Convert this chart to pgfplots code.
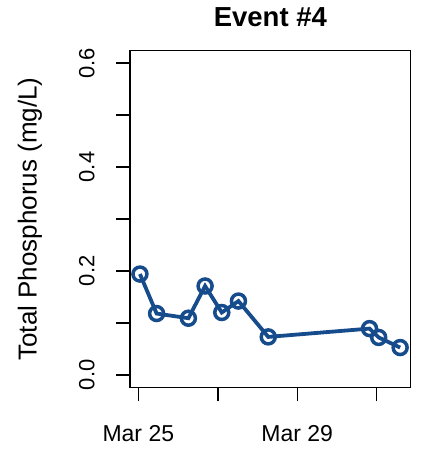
\documentclass[border=0pt]{standalone}
\usepackage{fontspec}
\setmainfont{Liberation Sans}
\usepackage{pgfplots}
\pgfplotsset{compat=1.18}
\definecolor{tpblue}{RGB}{22,76,140}
\begin{document}
\begin{tikzpicture}[x=1bp,y=1bp]
\useasboundingbox (0,0) rectangle (424,450);
\begin{axis}[
  at={(130bp,62.7bp)}, anchor=south west,
  scale only axis, width=280.7bp, height=336.6bp,
  xmin=24.79, xmax=31.856, ymin=-0.024, ymax=0.624,
  axis line style={line width=1.5bp},
  tick style={line width=1.5bp, black},
  tick align=outside, major tick length=14bp,
  xtick pos=bottom, ytick pos=left,
  xtick={25,27,29,31}, xticklabels={Mar 25,,Mar 29,},
  ytick={0,0.1,0.2,0.3,0.4,0.5,0.6},
  yticklabels={0.0,,0.2,,0.4,,0.6},
  xticklabel style={font=\fontsize{23bp}{27bp}\selectfont, anchor=base, yshift=-40.5bp},
  yticklabel style={font=\fontsize{22bp}{26bp}\selectfont, rotate=90, anchor=base, yshift=21.7bp},
  title={\bfseries Event \#4},
  title style={font=\fontsize{27.5bp}{32bp}\selectfont, at={(axis description cs:0.5,1)}, anchor=base, yshift=18bp},
  ylabel={Total Phosphorus (mg/L)},
  ylabel style={font=\fontsize{26bp}{30bp}\selectfont, at={(axis description cs:0,0.5)}, rotate=0, anchor=base, yshift=93.3bp},
]
\addplot[color=tpblue, line width=3.8bp, mark=o, mark size=7bp,
  mark options={line width=3.5bp, solid}] coordinates {
  (25.04,0.194) (25.46,0.118) (26.26,0.109) (26.68,0.171) (27.10,0.120)
  (27.52,0.142) (28.27,0.073) (30.82,0.089) (31.05,0.072) (31.59,0.0525)
};
\end{axis}
\end{tikzpicture}
\end{document}
